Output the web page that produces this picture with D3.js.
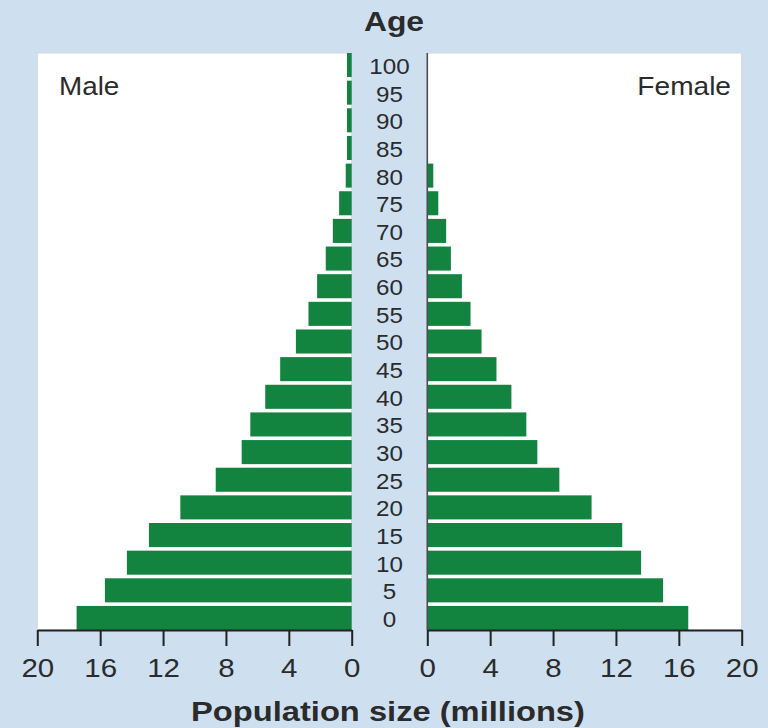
<!DOCTYPE html>
<html lang="en">
<head>
    <meta charset="UTF-8">
    <title>Population pyramid</title>
    <style>
        body {
            margin: 0;
            padding: 0;
            background-color: #cee0f0;
        }
        svg text {
            font-family: "Liberation Sans", Arial, Helvetica, sans-serif;
            fill: #2b2b2b;
        }
        .bar {
            fill: #12843f;
        }
        .axis path, .axis line {
            stroke: #222;
            stroke-width: 2;
        }
        .axis text {
            font-size: 25px;
        }
        .age-label {
            font-size: 22px;
            text-anchor: middle;
        }
        .side-label {
            font-size: 26px;
        }
        .title {
            font-size: 27px;
            font-weight: bold;
            text-anchor: middle;
        }
    </style>
</head>
<body>
    <svg width="768" height="728"></svg>

    <script src="https://d3js.org/d3.v7.min.js"></script>
    <script>
        // Age groups, bottom to top
        const ages = [0, 5, 10, 15, 20, 25, 30, 35, 40, 45, 50, 55, 60, 65, 70, 75, 80, 85, 90, 95, 100];
        // Population (millions)
        const male = [17.5, 15.7, 14.3, 12.9, 10.9, 8.65, 7.0, 6.45, 5.5, 4.55, 3.55, 2.75, 2.2, 1.65, 1.2, 0.8, 0.38, 0.3, 0.3, 0.3, 0.3];
        const female = [16.6, 15.0, 13.6, 12.4, 10.45, 8.4, 7.0, 6.3, 5.35, 4.4, 3.45, 2.75, 2.2, 1.5, 1.2, 0.7, 0.38, 0, 0, 0, 0];
        const xTicks = [0, 4, 8, 12, 16, 20];

        const svg = d3.select("svg");

        // stretch text a little wider, the source picture is wide-ish
        function stretch(sel, k) {
            sel.each(function() {
                const w = this.getComputedTextLength();
                d3.select(this)
                  .attr("textLength", w * k)
                  .attr("lengthAdjust", "spacingAndGlyphs");
            });
        }

        const plotTop = 53, plotBottom = 630;
        const leftX = [37.3, 351.7];
        const rightX = [427.3, 741.7];

        const y = d3.scaleBand()
            .domain(ages.slice().reverse())
            .range([plotTop, plotBottom])
            .paddingInner(0.13)
            .paddingOuter(0);

        const xL = d3.scaleLinear().domain([20, 0]).range(leftX);
        const xR = d3.scaleLinear().domain([0, 20]).range(rightX);

        // white panels
        svg.append("rect")
            .attr("x", xL(20)).attr("y", plotTop)
            .attr("width", xL(0) - xL(20)).attr("height", plotBottom - plotTop)
            .attr("fill", "#fff").attr("stroke", "#d4d8dc").attr("stroke-width", 1);
        svg.append("rect")
            .attr("x", xR(0)).attr("y", plotTop)
            .attr("width", xR(20) - xR(0)).attr("height", plotBottom - plotTop)
            .attr("fill", "#fff").attr("stroke", "#d4d8dc").attr("stroke-width", 1);

        const rows = ages.map((a, i) => ({age: a, m: male[i], f: female[i]}));

        svg.append("g")
            .selectAll("rect")
            .data(rows)
            .join("rect")
            .attr("class", "bar")
            .attr("x", d => xL(d.m))
            .attr("y", d => y(d.age))
            .attr("width", d => xL(0) - xL(d.m))
            .attr("height", y.bandwidth());

        svg.append("g")
            .selectAll("rect")
            .data(rows)
            .join("rect")
            .attr("class", "bar")
            .attr("x", xR(0))
            .attr("y", d => y(d.age))
            .attr("width", d => xR(d.f) - xR(0))
            .attr("height", y.bandwidth());

        // vertical zero line on the female side
        svg.append("line")
            .attr("x1", xR(0)).attr("x2", xR(0))
            .attr("y1", plotTop).attr("y2", plotBottom)
            .attr("stroke", "#4d4d4d").attr("stroke-width", 1.6);

        // age labels in the middle strip
        svg.append("g")
            .selectAll("text")
            .data(ages)
            .join("text")
            .attr("class", "age-label")
            .attr("x", (xL(0) + xR(0)) / 2)
            .attr("y", d => y(d) + y.bandwidth() / 2 + 1)
            .attr("dy", "0.36em")
            .text(d => d)
            .call(stretch, 1.1);

        // x axes
        const axL = svg.append("g")
            .attr("class", "axis")
            .attr("transform", `translate(0,${plotBottom})`)
            .call(d3.axisBottom(xL).tickValues(xTicks).tickSize(16).tickSizeOuter(0).tickPadding(13));
        const axR = svg.append("g")
            .attr("class", "axis")
            .attr("transform", `translate(0,${plotBottom})`)
            .call(d3.axisBottom(xR).tickValues(xTicks).tickSize(16).tickSizeOuter(0).tickPadding(13));
        [axL, axR].forEach(g => {
            g.selectAll("text").attr("fill", "#2b2b2b").call(stretch, 1.18);
        });

        // labels
        svg.append("text")
            .attr("class", "title")
            .attr("x", 394).attr("y", 31)
            .text("Age")
            .call(stretch, 1.18);

        svg.append("text")
            .attr("class", "side-label")
            .attr("x", 59).attr("y", 95)
            .text("Male")
            .call(stretch, 1.07);

        svg.append("text")
            .attr("class", "side-label")
            .attr("x", 731).attr("y", 95)
            .attr("text-anchor", "end")
            .text("Female")
            .call(stretch, 1.08);

        svg.append("text")
            .attr("class", "title")
            .attr("x", 388).attr("y", 721)
            .text("Population size (millions)")
            .call(stretch, 1.21);
    </script>
</body>
</html>
